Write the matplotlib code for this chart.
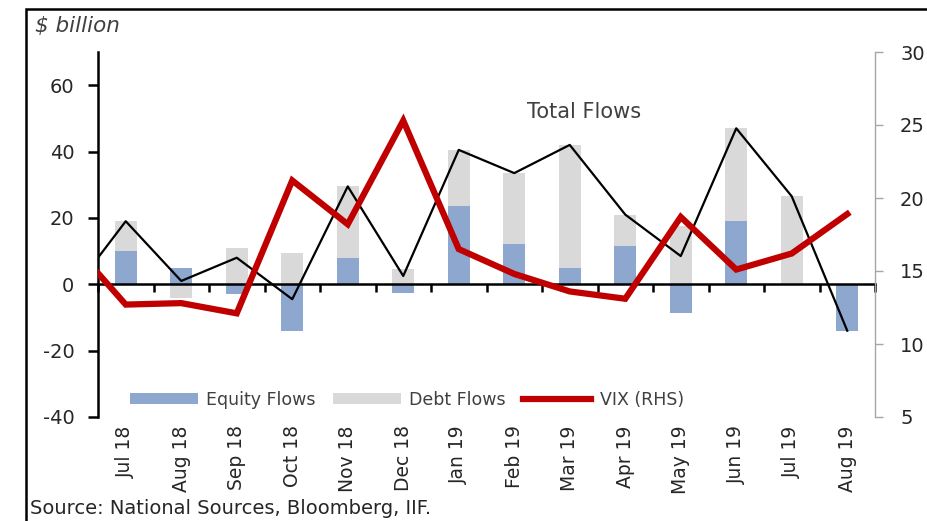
import numpy as np
import matplotlib
matplotlib.use("Agg")
import matplotlib.pyplot as plt
from matplotlib.patches import Rectangle
from matplotlib.transforms import blended_transform_factory, offset_copy

plt.rcParams['font.family'] = ['DejaVu Sans']
plt.rcParams['axes.unicode_minus'] = False

# data ($ billion, VIX index)
months = ["Jul 18", "Aug 18", "Sep 18", "Oct 18", "Nov 18", "Dec 18", "Jan 19",
          "Feb 19", "Mar 19", "Apr 19", "May 19", "Jun 19", "Jul 19", "Aug 19"]
equity = [10, 5, -3, -14, 8, -2.5, 23.5, 12, 5, 11.5, -8.7, 19, 0, -14]
debt = [9, -4, 11, 9.5, 21.5, 4.5, 17, 21.5, 37, 9.5, 17.5, 28, 26.5, 0]
# lines start one month earlier (Jun 18), clipped at the axis like the original
total = [-3, 19, 1, 8, -4.5, 29.5, 2.5, 40.5, 33.5, 42, 21, 8.5, 47, 26.5, -14]
vix = [17, 12.7, 12.8, 12.1, 21.2, 18.2, 25.3, 16.5, 14.8, 13.6, 13.1, 18.7, 15.1, 16.2, 18.9]

BLUE = "#8DA7CF"
GREY = "#D9D9D9"
RED = "#C00000"
TXT = "#262626"

x = np.arange(len(months))
x_lines = np.arange(-1, len(months))
equity = np.array(equity)
debt = np.array(debt)

fig = plt.figure(figsize=(9.27, 5.21), dpi=100)
ax = fig.add_axes([98 / 927, 1 - 417 / 521, 777 / 927, 365 / 521])
ax2 = ax.twinx()

# stacked bars, Excel style: positives stack on positives, negatives on negatives
w = 0.4
ax.bar(x, equity, w, color=BLUE, label="Equity Flows", zorder=2)
debt_bottom = np.where(debt * equity > 0, equity, 0)
ax.bar(x, debt, w, bottom=debt_bottom, color=GREY, label="Debt Flows", zorder=2)
ax.plot(x_lines, total, color="black", lw=1.6, zorder=3)

ax2.plot(x_lines, vix, color=RED, lw=4.5, solid_joinstyle="miter", label="VIX (RHS)")

ax.set_xlim(-0.5, len(months) - 0.5)
ax.set_ylim(-40, 70)
ax2.set_ylim(5, 30)

# left axis
ax.set_yticks([-40, -20, 0, 20, 40, 60])
ax.tick_params(axis="y", direction="out", length=7, width=1.8, colors="black",
               labelcolor=TXT, labelsize=14, pad=10)
ax.spines["left"].set_linewidth(1.8)
ax.spines["top"].set_visible(False)
ax.spines["right"].set_visible(False)
ax2.spines["top"].set_visible(False)
ax2.spines["left"].set_visible(False)
ax2.spines["bottom"].set_visible(False)

# x axis line at zero with ticks between months
ax.spines["bottom"].set_position(("data", 0))
ax.spines["bottom"].set_linewidth(1.8)
ax.set_xticks(np.arange(-0.5, len(months), 1))
ax.set_xticklabels([])
ax.tick_params(axis="x", direction="out", length=6, width=1.8)

tr = offset_copy(blended_transform_factory(ax.transData, ax.transData), fig=fig, y=-6, units="points")
for xi, m in zip(x, months):
    ax.text(xi, -40, m, rotation=90, ha="center", va="top", fontsize=13.5, color=TXT, transform=tr)

# right axis
ax2.spines["right"].set_color("#A6A6A6")
ax2.spines["right"].set_linewidth(1.0)
ax2.set_yticks([5, 10, 15, 20, 25, 30])
ax2.tick_params(axis="y", direction="out", length=6, width=1.0, colors="#A6A6A6",
                labelcolor=TXT, labelsize=14, pad=12)

fig.text(527 / 927, 1 - 112 / 521, "Total Flows", fontsize=15, color="#404040", va="center")

# legend
h1, l1 = ax.get_legend_handles_labels()
h2, l2 = ax2.get_legend_handles_labels()
leg = ax.legend(h1 + h2, l1 + l2, loc="center left", bbox_to_anchor=(0.041, 0.047),
                ncol=3, frameon=False, fontsize=12.5, handlelength=3.9, handleheight=0.55,
                handletextpad=0.5, columnspacing=1.0, borderpad=0, borderaxespad=0)
for t in leg.get_texts():
    t.set_color("#404040")

# frame and labels
fig.patches.append(Rectangle((26 / 927, -0.1), 1.0, 1.1 - 9 / 521, transform=fig.transFigure,
                             fill=False, edgecolor="black", lw=1.8))
fig.text(35 / 927, 1 - 26 / 521, "$ billion", style="italic", fontsize=15.5, color="#404040", va="center")
fig.text(30 / 927, 1 - 509 / 521, "Source: National Sources, Bloomberg, IIF.", fontsize=14,
         color=TXT, va="center")

fig.savefig("out.png", dpi=100)
